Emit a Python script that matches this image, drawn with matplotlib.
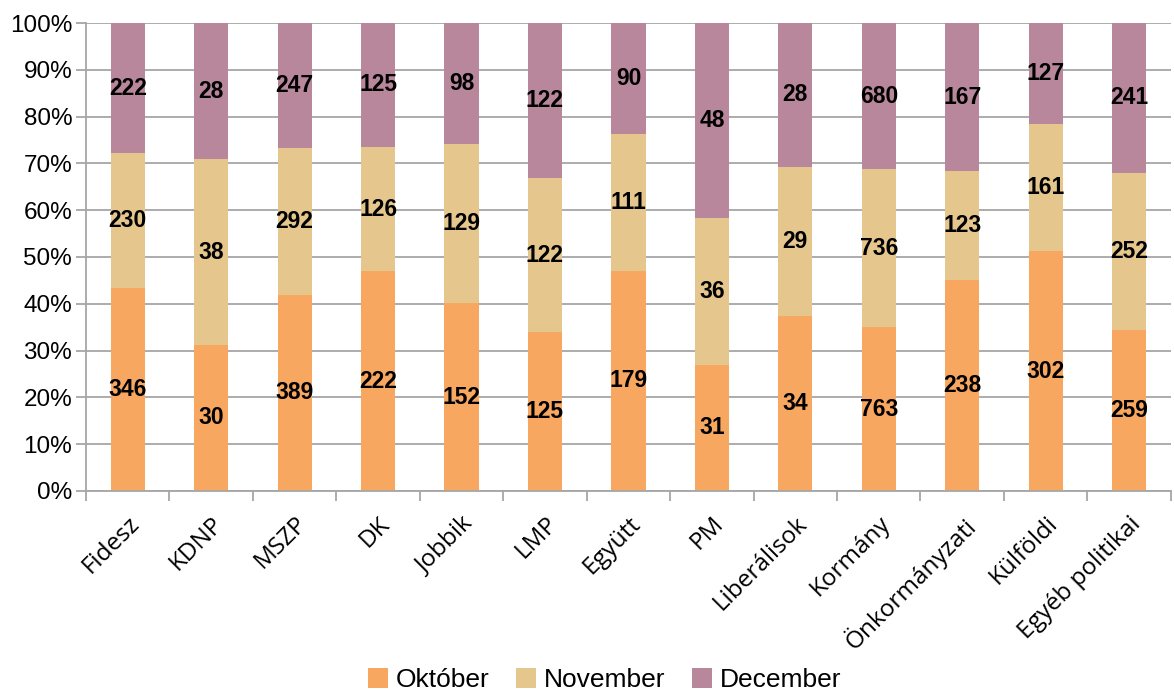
import matplotlib.pyplot as plt
import numpy as np
from matplotlib.ticker import PercentFormatter, FixedLocator

categories = ["Fidesz", "KDNP", "MSZP", "DK", "Jobbik", "LMP", "Együtt", "PM",
              "Liberálisok", "Kormány", "Önkormányzati", "Külföldi", "Egyéb politikai"]
oktober = [346, 30, 389, 222, 152, 125, 179, 31, 34, 763, 238, 302, 259]
november = [230, 38, 292, 126, 129, 122, 111, 36, 29, 736, 123, 161, 252]
december = [222, 28, 247, 125, 98, 122, 90, 48, 28, 680, 167, 127, 241]

series = [("Október", oktober, "#F8A760"),
          ("November", november, "#E5C68D"),
          ("December", december, "#B8879C")]

plt.rcParams["font.family"] = ["Liberation Sans", "DejaVu Sans"]

fig = plt.figure(figsize=(11.74, 6.97), dpi=100)
ax = fig.add_axes([0.0733, 0.2956, 0.924, 0.6714])

x = np.arange(len(categories))
totals = np.array(oktober) + np.array(november) + np.array(december)
bottom = np.zeros(len(categories))
for name, vals, color in series:
    share = np.array(vals) / totals * 100
    ax.bar(x, share, 0.41, bottom=bottom, color=color, label=name, zorder=2)
    for xi, b, s, v in zip(x, bottom, share, vals):
        ax.text(xi, b + s / 2, str(v), ha="center", va="center",
                fontsize=16.5, fontweight="bold", color="black", zorder=3)
    bottom += share

ax.set_xlim(-0.5, len(categories) - 0.5)
ax.set_ylim(0, 100)
ax.yaxis.set_major_locator(FixedLocator(np.arange(0, 101, 10)))
ax.yaxis.set_major_formatter(PercentFormatter(decimals=0))
ax.grid(axis="y", color="#A6A6A6", linewidth=1.3, zorder=0)

ax.set_xticks(x)
ax.set_xticklabels(categories, rotation=45, ha="right", rotation_mode="anchor",
                   fontsize=17.5, family=["Open Sans", "DejaVu Sans"])
ax.set_xticks(np.arange(-0.5, len(categories), 1), minor=True)
ax.tick_params(axis="x", which="major", length=0, pad=15)
ax.tick_params(axis="x", which="minor", length=7, color="#A6A6A6", width=1.3)
ax.tick_params(axis="y", length=7, color="#A6A6A6", width=1.3, labelsize=17.5, pad=3)

for side in ["top", "right"]:
    ax.spines[side].set_visible(False)
for side in ["left", "bottom"]:
    ax.spines[side].set_color("#A6A6A6")
    ax.spines[side].set_linewidth(1.3)

fig.legend(loc="lower center", ncol=3, frameon=False, fontsize=19,
           handlelength=0.75, handleheight=0.75, handletextpad=0.3,
           columnspacing=1.0, bbox_to_anchor=(0.515, -0.027))

fig.savefig("out.png", dpi=100)
